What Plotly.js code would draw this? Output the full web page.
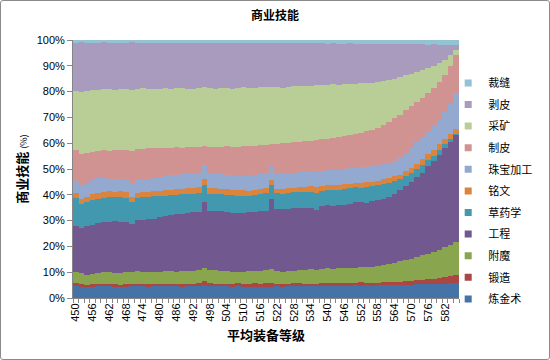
<!DOCTYPE html>
<html>
<head>
<meta charset="utf-8">
<script src="https://cdn.plot.ly/plotly-3.0.1.min.js"></script>
<style>
html,body{margin:0;padding:0;background:#fff;}
#wrap{position:relative;width:550px;height:360px;}
#chart{width:550px;height:360px;}
#frame{position:absolute;left:0;top:0;width:550px;height:360px;box-sizing:border-box;border:1px solid #8a8a8a;border-radius:3px;pointer-events:none;}
</style>
</head>
<body>
<div id="wrap"><div id="chart"></div><div id="frame"></div></div>
<script>
// Average item level categories (step 2)
const itemLevels = [450,452,454,456,458,460,462,464,466,468,470,472,474,476,478,480,482,484,486,488,490,492,494,496,498,500,502,504,506,508,510,512,514,516,518,520,522,524,526,528,530,532,534,536,538,540,542,544,546,548,550,552,554,556,558,560,562,564,566,568,570,572,574,576,578,580,582,584,586];
const tickValues = [450,456,462,468,474,480,486,492,498,504,510,516,522,528,534,540,546,552,558,564,570,576,582];
const tickLabels = ['450','456','462','468','474','480','486','492','498','504','510','516','522','528','534','540','546','552','558','564','570','576','582'];

// Share (%) of each profession per item level
const alchemy = [4.6,4.3,4.2,4.4,4.5,4.6,4.5,4.3,4.2,4.4, 4.5,4.6,4.5,4.4,4.6,4.5,4.6,4.7,4.5,4.4, 4.6,4.5,4.7,4.9,4.6,4.5,4.6,4.5,4.4,4.6, 4.4,4.3,4.4,4.3,4.4,4.3,4.5,4.4,4.5,4.6, 4.7,4.6,4.7,4.6,4.7,4.8,4.7,4.8,4.7,4.8, 4.9,4.8,4.9,4.8,4.9,5.0,5.1,5.0,5.1,5.2, 5.2,5.3,5.3,5.4,5.5,5.5,5.6,5.7,5.8];
const blacksmithing = [1.4,1.1,1.0,0.9,0.9,1.0,1.0,1.1,1.0,0.9, 1.0,1.0,1.1,1.0,0.9,1.0,1.0,0.9,1.0,1.1, 1.0,1.0,1.1,1.6,1.1,1.0,1.0,1.1,1.0,1.1, 1.2,1.2,1.3,1.2,1.3,1.4,1.1,1.0,1.0,1.1, 1.0,1.0,0.9,1.0,1.0,0.9,1.0,1.0,1.0,0.9, 1.0,1.3,1.1,1.0,1.0,1.1,1.1,1.2,1.2,1.3, 1.4,1.5,1.7,1.8,1.9,2.1,2.4,2.9,3.1];
const enchanting = [4.1,4.4,3.7,3.9,4.1,4.3,4.5,4.3,4.4,4.6, 4.7,4.7,4.5,4.5,4.5,4.6,4.7,4.8,4.7,5.0, 5.0,5.0,5.1,5.2,5.1,5.2,4.9,4.7,4.6,4.4, 4.6,4.8,4.8,5.1,5.2,5.6,4.8,4.8,5.0,4.9, 5.2,5.4,5.6,5.3,5.6,5.8,5.5,5.8,5.8,6.0, 5.9,5.8,5.9,6.3,6.5,6.5,7.0,7.4,7.9,8.3, 8.7,9.1,9.5,10.0,10.5,11.1,11.6,12.0,12.9];
const engineering = [17.9,17.5,18.9,19.1,19.5,19.4,19.6,20.3,20.0,19.5, 18.3,19.9,20.2,20.6,20.8,21.2,21.3,21.8,22.3,22.2, 22.3,22.7,22.6,25.6,23.0,23.0,23.1,23.1,23.1,22.7, 22.7,22.9,23.0,23.2,23.0,26.9,24.0,24.3,24.1,24.2, 24.0,23.8,23.7,23.4,24.5,24.4,24.6,24.4,24.7,24.8, 25.5,25.3,25.1,25.4,25.6,25.9,26.1,26.9,27.8,28.7, 29.7,30.9,32.0,33.8,35.1,36.8,38.4,39.9,41.5];
const herbalism = [10.6,9.0,9.4,9.7,9.3,9.5,9.7,9.2,9.7,9.4, 8.8,8.7,8.7,8.7,8.6,8.2,8.1,7.7,7.6,7.6, 7.5,7.3,7.1,6.5,6.5,6.7,6.6,6.7,6.8,6.9, 6.6,6.3,6.5,6.7,6.7,5.6,6.2,6.0,6.1,6.1, 6.1,6.3,6.3,6.5,5.8,6.0,6.0,6.0,6.1,6.0, 5.6,5.6,6.1,5.8,5.8,5.7,5.4,4.8,4.2,3.8, 3.6,3.2,3.1,2.5,2.0,1.7,1.5,1.2,0.4];
const inscription = [2.2,2.1,2.0,2.2,2.4,2.3,2.1,2.0,2.2,2.1, 1.9,1.9,2.0,1.9,2.0,2.1,2.0,2.1,2.0,2.1, 2.2,2.3,2.3,2.3,2.5,2.3,2.2,2.1,2.0,2.1, 2.2,2.1,2.0,1.9,1.9,1.9,1.8,1.9,2.0,1.8, 1.9,2.0,2.2,2.1,1.9,1.9,2.0,1.8,1.7,1.8, 1.8,1.9,1.9,1.8,1.6,1.8,1.7,1.8,1.6,1.8, 1.9,2.0,2.1,2.2,2.3,2.4,2.3,2.0,1.7];
const jewelcrafting = [4.7,5.1,5.1,5.4,5.7,5.4,4.8,4.8,4.8,4.9, 5.5,4.8,4.9,5.2,5.2,5.3,5.5,5.6,5.6,5.5, 5.4,5.4,5.4,5.5,5.8,5.7,5.7,5.6,5.7,5.6, 5.6,5.7,5.7,5.7,5.8,5.5,5.9,5.8,5.8,5.9, 5.9,5.8,5.6,5.9,5.8,5.7,5.8,5.9,5.9,5.9, 5.8,5.9,5.9,6.1,6.1,5.9,5.9,6.1,6.7,7.2, 7.7,8.3,8.5,8.8,9.5,9.7,10.2,11.6,13.9];
const leatherworking = [11.9,12.3,11.9,11.0,10.6,10.7,10.8,11.3,11.2,11.6, 12.1,12.0,11.9,11.7,11.5,11.1,11.0,10.7,10.7,10.4, 10.5,10.4,10.2,7.4,10.1,10.2,10.6,11.0,11.0,11.3, 11.5,11.7,11.4,11.2,11.1,8.4,11.5,11.8,11.6,11.7, 11.7,11.8,12.0,12.4,12.2,12.3,12.5,12.8,13.0,13.1, 13.2,13.5,13.8,14.1,14.5,15.1,15.9,16.4,16.5,16.5, 16.3,15.7,15.4,15.0,14.7,14.3,14.5,14.7,14.9];
const mining = [22.8,24.1,24.2,24.2,23.6,23.7,24.1,23.5,23.4,23.8, 23.9,23.4,23.5,23.1,22.8,23.2,23.2,22.8,22.9,23.2, 22.7,22.4,22.8,22.6,22.7,22.6,22.6,22.7,22.6,22.7, 22.8,22.5,22.2,22.3,22.4,22.3,21.9,21.5,21.7,21.7, 21.7,21.3,21.3,21.3,20.9,20.8,20.7,20.2,20.0,19.8, 19.3,19.1,18.7,18.2,17.7,17.0,16.3,15.4,14.6,13.5, 12.5,11.7,10.8,9.7,8.5,7.4,5.9,4.0,1.8];
const skinning = [18.8,19.2,18.6,18.1,18.4,18.2,17.9,18.2,18.0,17.8, 18.4,18.0,17.7,17.8,18.1,17.8,17.5,17.9,17.7,17.4, 17.8,17.9,17.6,17.2,17.5,17.7,17.5,17.4,17.6,17.5, 17.2,17.3,17.6,17.2,17.0,16.8,17.1,17.3,16.9,16.8, 16.5,16.7,16.5,16.2,16.3,16.0,15.9,15.9,15.7,15.6, 15.6,15.4,15.1,15.1,14.8,14.5,13.9,13.5,12.8,12.1, 11.3,10.7,9.9,9.0,8.3,7.2,5.8,4.1,2.1];
const tailoring = [1.0,0.9,1.0,1.1,1.0,0.9,1.0,1.0,1.1,1.0, 0.9,1.0,1.0,1.1,1.0,1.0,1.1,1.0,1.0,1.1, 1.0,1.1,1.1,1.2,1.1,1.1,1.2,1.1,1.2,1.1, 1.2,1.2,1.1,1.2,1.2,1.3,1.2,1.2,1.3,1.2, 1.3,1.3,1.2,1.3,1.3,1.4,1.3,1.4,1.4,1.3, 1.4,1.4,1.5,1.4,1.5,1.5,1.6,1.5,1.6,1.6, 1.7,1.6,1.7,1.8,1.7,1.8,1.8,1.9,1.9];

// bottom to top
const seriesNames = ['炼金术','锻造','附魔','工程','草药学','铭文','珠宝加工','制皮','采矿','剥皮','裁缝'];
const seriesData = [alchemy, blacksmithing, enchanting, engineering, herbalism, inscription, jewelcrafting, leatherworking, mining, skinning, tailoring];
const seriesColors = ['#4572A7','#AA4643','#89A54E','#71588F','#4198AF','#DB843D','#93A9CF','#D19392','#B9CD96','#A99BBD','#92C3D4'];

const traces = [];
seriesNames.forEach((name, k) => {
  traces.push({
    type: 'bar', name: name, x: itemLevels, y: seriesData[k], width: 2,
    marker: {color: seriesColors[k], line: {width: 0}},
    showlegend: false, hoverinfo: 'x+y+name'
  });
});
// legend entries, top to bottom
for (let k = seriesNames.length - 1; k >= 0; k--) {
  traces.push({
    type: 'scatter', mode: 'markers', name: seriesNames[k], x: [null], y: [null],
    legendgroup: 'g' + k,
    marker: {symbol: 'square', size: 7, color: seriesColors[k]},
    showlegend: true
  });
}

const cjk = '"Noto Sans CJK SC", "Liberation Sans", sans-serif';
const layout = {
  width: 550, height: 360,
  margin: {l: 73, r: 91, t: 40, b: 62},
  paper_bgcolor: '#ffffff', plot_bgcolor: '#ffffff',
  barmode: 'stack', barnorm: 'percent', bargap: 0,
  title: {text: '<b>商业技能</b>', x: 0.5, xref: 'container', y: 0.955, yref: 'container', yanchor: 'middle',
          font: {family: cjk, size: 12, color: '#000'}},
  xaxis: {
    range: [449, 587], tickmode: 'array', tickvals: tickValues, ticktext: tickLabels,
    tickangle: -90, ticks: '', showgrid: false, zeroline: false,
    showline: true, linecolor: '#868686', linewidth: 1,
    minor: {tick0: 449, dtick: 2, ticks: 'outside', ticklen: 4, tickcolor: '#868686', showgrid: false},
    tickfont: {family: '"Liberation Sans", Arial, sans-serif', size: 11, color: '#000'},
    title: {text: '<b>平均装备等级</b>', font: {family: cjk, size: 13, color: '#000'}, standoff: 10}
  },
  yaxis: {
    range: [0, 100], dtick: 10, ticksuffix: '%', ticks: 'outside', ticklen: 5, tickcolor: '#868686',
    showline: true, linecolor: '#868686', linewidth: 1, showgrid: true, gridcolor: '#868686', zeroline: false,
    tickfont: {family: '"Liberation Sans", Arial, sans-serif', size: 11, color: '#000'},
    title: {text: '<b>商业技能</b> <span style="font-size:9px">(%)</span>', font: {family: cjk, size: 13, color: '#000'}, standoff: 6}
  },
  legend: {
    x: 0.972, xanchor: 'left', y: 0.89, yanchor: 'top',
    bgcolor: 'rgba(0,0,0,0)', traceorder: 'grouped', tracegroupgap: 2.6,
    font: {family: cjk, size: 11, color: '#000'}
  },
  showlegend: true
};

Plotly.newPlot('chart', traces, layout, {displayModeBar: false, staticPlot: true});
</script>
</body>
</html>
